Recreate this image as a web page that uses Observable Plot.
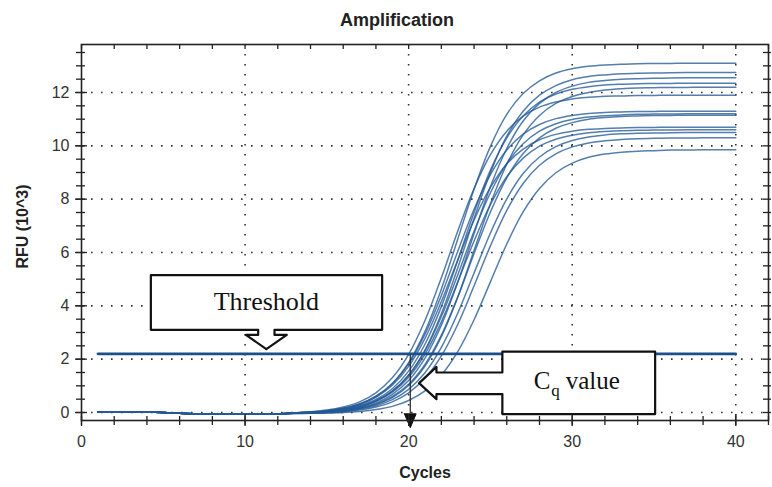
<!DOCTYPE html>
<html><head><meta charset="utf-8">
<script src="https://cdn.jsdelivr.net/npm/d3@7"></script>
<script src="https://cdn.jsdelivr.net/npm/@observablehq/plot@0.6"></script>
<style>body{margin:0;background:#fff}</style>
</head><body><div id="chart"></div>
<script>
// ---- data ----
const cycles = [1,2,3,4,5,6,7,8,9,10,11,12,13,14,15,16,17,18,19,20,21,22,23,24,25,26,27,28,29,30,31,32,33,34,35,36,37,38,39,40];
// shared baseline (cycles 1-12), RFU x1000
const baseline = [0.02,0.03,0.03,0.02,0.00,-0.03,-0.05,-0.05,-0.05,-0.05,-0.05,-0.05];
// per-well RFU (x1000), cycles 13-40
const well1  = [-0.01,0.02,0.07,0.16,0.32,0.61,1.09,1.87,3.04,4.63,6.50,8.37,9.98,11.18,11.96,12.44,12.73,12.89,12.98,13.03,13.06,13.08,13.09,13.09,13.10,13.10,13.10,13.10];
const well2  = [-0.02,0.00,0.04,0.10,0.22,0.43,0.80,1.40,2.34,3.70,5.42,7.28,9.00,10.36,11.30,11.90,12.26,12.48,12.60,12.66,12.70,12.72,12.73,12.74,12.75,12.75,12.75,12.75];
const well3  = [-0.03,-0.01,0.02,0.08,0.18,0.36,0.68,1.20,2.04,3.27,4.88,6.71,8.47,9.90,10.93,11.59,12.00,12.24,12.38,12.45,12.50,12.52,12.53,12.54,12.55,12.55,12.55,12.55];
const well4  = [-0.02,0.00,0.05,0.12,0.26,0.49,0.89,1.55,2.56,3.97,5.70,7.50,9.09,10.30,11.12,11.64,11.94,12.12,12.22,12.28,12.31,12.33,12.34,12.34,12.35,12.35,12.35,12.35];
const well5  = [-0.03,-0.02,0.01,0.06,0.15,0.30,0.56,1.01,1.74,2.84,4.32,6.08,7.83,9.31,10.41,11.14,11.59,11.85,12.00,12.09,12.14,12.17,12.18,12.19,12.19,12.20,12.20,12.20];
const well6  = [-0.01,0.03,0.09,0.21,0.40,0.74,1.30,2.18,3.45,5.05,6.80,8.40,9.67,10.55,11.11,11.45,11.64,11.76,11.82,11.86,11.87,11.89,11.89,11.90,11.90,11.90,11.90,11.90];
const well7  = [-0.01,0.02,0.07,0.16,0.32,0.60,1.08,1.83,2.94,4.39,6.04,7.62,8.92,9.84,10.44,10.80,11.02,11.14,11.21,11.25,11.27,11.29,11.29,11.30,11.30,11.30,11.30,11.30];
const well8  = [-0.02,0.00,0.04,0.11,0.23,0.44,0.80,1.40,2.31,3.60,5.16,6.80,8.24,9.34,10.08,10.55,10.83,10.99,11.08,11.13,11.16,11.18,11.19,11.19,11.20,11.20,11.20,11.20];
const well9  = [-0.03,-0.01,0.01,0.07,0.16,0.32,0.60,1.06,1.80,2.90,4.33,5.96,7.52,8.80,9.71,10.30,10.66,10.87,11.00,11.06,11.10,11.12,11.14,11.14,11.15,11.15,11.15,11.15];
const well10 = [-0.02,0.01,0.06,0.15,0.30,0.57,1.02,1.73,2.78,4.16,5.72,7.22,8.44,9.32,9.88,10.23,10.43,10.55,10.62,10.65,10.67,10.69,10.69,10.70,10.70,10.70,10.70,10.70];
const well11 = [-0.02,0.00,0.03,0.10,0.21,0.42,0.76,1.32,2.19,3.40,4.89,6.43,7.80,8.84,9.54,9.99,10.25,10.40,10.49,10.54,10.57,10.58,10.59,10.59,10.60,10.60,10.60,10.60];
const well12 = [-0.03,-0.02,0.00,0.04,0.12,0.25,0.48,0.87,1.49,2.44,3.72,5.23,6.73,8.01,8.96,9.58,9.97,10.20,10.33,10.41,10.45,10.47,10.48,10.49,10.50,10.50,10.50,10.50];
const well13 = [-0.04,-0.03,-0.01,0.03,0.09,0.21,0.40,0.74,1.28,2.12,3.30,4.75,6.25,7.58,8.59,9.27,9.70,9.96,10.11,10.19,10.24,10.27,10.28,10.29,10.29,10.30,10.30,10.30];
const well14 = [-0.04,-0.03,-0.02,0.00,0.04,0.11,0.23,0.45,0.81,1.40,2.28,3.48,4.90,6.32,7.52,8.40,8.99,9.35,9.57,9.69,9.76,9.80,9.82,9.84,9.84,9.85,9.85,9.85];
const wells = [well1,well2,well3,well4,well5,well6,well7,well8,well9,well10,well11,well12,well13,well14];

const threshold = 2.2;
const thresholdCycles = [1, 40];
const cqCycle = 20.1;

const xTickLabels = [0, 10, 20, 30, 40];
const yTickLabels = [0, 2, 4, 6, 8, 10, 12];
const xMinorTicks = [0,2,4,6,8,10,12,14,16,18,20,22,24,26,28,30,32,34,36,38,40,42];
const yMinorTicks = [0,0.5,1,1.5,2,2.5,3,3.5,4,4.5,5,5.5,6,6.5,7,7.5,8,8.5,9,9.5,10,10.5,11,11.5,12,12.5,13,13.5];

const titleText = "Amplification";
const xLabel = "Cycles";
const yLabel = "RFU (10^3)";

// annotation shapes, in data units (cycles, RFU x1000)
const thrCalloutX = [4.24,18.38,18.38,11.8,11.8,12.55,11.3,10.05,10.8,10.8,4.24,4.24];
const thrCalloutY = [5.15,5.15,3.10,3.10,2.91,2.91,2.38,2.91,2.91,3.10,3.10,5.15];
const cqCalloutX = [25.73,35.07,35.07,25.73,25.73,21.70,21.70,20.64,21.70,21.70,25.73,25.73];
const cqCalloutY = [2.28,2.28,-0.06,-0.06,0.69,0.69,0.50,1.10,1.71,1.50,1.50,2.28];
const cqArrowHeadX = [19.74,20.46,20.1,19.74];
const cqArrowHeadY = [-0.05,-0.05,-0.57,-0.05];

// ---- build tables ----
const table = [];
wells.forEach((w, i) => {
  const vals = baseline.concat(w);
  cycles.forEach((c, j) => table.push({well: i + 1, cycle: c, rfu: vals[j]}));
});
const pts = (xs, ys) => xs.map((x, i) => ({x, y: ys[i]}));
const thrCallout = pts(thrCalloutX, thrCalloutY);
const cqCallout = pts(cqCalloutX, cqCalloutY);
const cqHead = pts(cqArrowHeadX, cqArrowHeadY);
const thrLine = thresholdCycles.map(c => ({x: c, y: threshold}));

const H = 376, W = 687;
const dots = {stroke: "#333", strokeOpacity: 1, strokeWidth: 1.6, strokeDasharray: "1.6,8.4"};
const serif = "'Liberation Serif', 'Times New Roman', serif";

const chart = Plot.plot({
  width: 772, height: 487,
  marginLeft: 81, marginRight: 4, marginTop: 44, marginBottom: 67,
  style: {fontFamily: "'Liberation Sans', Arial, sans-serif", fontSize: "16px", background: "white", color: "#333", overflow: "visible"},
  x: {domain: [0, 42], axis: null},
  y: {domain: [-0.3, 13.8], axis: null},
  marks: [
    Plot.ruleX(xTickLabels.slice(1), dots),
    Plot.ruleY(yTickLabels, dots),
    Plot.line(table, {x: "cycle", y: "rfu", z: "well", stroke: "#245a96", strokeOpacity: 0.78, strokeWidth: 1.5, curve: "catmull-rom"}),
    Plot.line(thrLine, {x: "x", y: "y", stroke: "#1c4f8a", strokeWidth: 2.6}),
    Plot.line(thrCallout, {x: "x", y: "y", fill: "white", stroke: "#111", strokeWidth: 2.2}),
    Plot.line(cqCallout, {x: "x", y: "y", fill: "white", stroke: "#111", strokeWidth: 2.2}),
    Plot.ruleX([cqCycle], {y1: threshold - 0.05, y2: -0.05, stroke: "#222", strokeWidth: 1.2}),
    Plot.line(cqHead, {x: "x", y: "y", fill: "#111", stroke: "#111", strokeWidth: 1}),
    Plot.frame({stroke: "#222", strokeWidth: 1.6}),
    // bottom ticks (crossing the axis)
    Plot.tickX(xMinorTicks, {x: d => d, insetTop: H - 4, insetBottom: -5, stroke: "#222", strokeWidth: 1.3}),
    Plot.tickX(xTickLabels, {x: d => d, insetTop: H - 6, insetBottom: -6, stroke: "#222", strokeWidth: 1.3}),
    // top ticks (inward)
    Plot.tickX(xMinorTicks, {x: d => d, insetBottom: H - 5, stroke: "#222", strokeWidth: 1.3}),
    // left ticks (crossing)
    Plot.tickY(yMinorTicks, {y: d => d, insetRight: W - 4, insetLeft: -5, stroke: "#222", strokeWidth: 1.3}),
    Plot.tickY(yTickLabels, {y: d => d, insetRight: W - 6, insetLeft: -6, stroke: "#222", strokeWidth: 1.3}),
    // right ticks
    Plot.tickY(yMinorTicks, {y: d => d, insetLeft: W - 5, insetRight: -3, stroke: "#222", strokeWidth: 1.3}),
    // tick labels
    Plot.text(xTickLabels, {x: d => d, text: d => String(d), frameAnchor: "bottom", lineAnchor: "middle", dy: 21, fill: "#333", fontSize: 16}),
    Plot.text(yTickLabels, {y: d => d, text: d => String(d), frameAnchor: "left", lineAnchor: "middle", dx: -12, textAnchor: "end", fill: "#333", fontSize: 16}),
    // titles
    Plot.text([titleText], {text: d => d, frameAnchor: "top", lineAnchor: "middle", textAnchor: "middle", dx: -28, dy: -24, fontWeight: "bold", fontSize: 18, fill: "#222"}),
    Plot.text([xLabel], {text: d => d, frameAnchor: "bottom", lineAnchor: "middle", textAnchor: "middle", dy: 52, fontWeight: "bold", fontSize: 16, fill: "#222"}),
    Plot.text([yLabel], {text: d => d, frameAnchor: "left", lineAnchor: "middle", textAnchor: "middle", dx: -59, dy: -6, rotate: -90, fontWeight: "bold", fontSize: 16, fill: "#222"}),
    // callout texts
    Plot.text(["Threshold"], {x: [11.3], y: [4.15], text: d => d, fontFamily: serif, fontSize: 26, fill: "#111"}),
    Plot.text(["C"], {x: [27.65], y: [0.87], text: d => d, textAnchor: "start", lineAnchor: "bottom", fontFamily: serif, fontSize: 25, fill: "#111"}),
    Plot.text(["q"], {x: [28.72], y: [0.62], text: d => d, textAnchor: "start", lineAnchor: "bottom", fontFamily: serif, fontSize: 17, fill: "#111"}),
    Plot.text(["value"], {x: [29.6], y: [0.87], text: d => d, textAnchor: "start", lineAnchor: "bottom", fontFamily: serif, fontSize: 25, fill: "#111"})
  ]
});
document.getElementById("chart").appendChild(chart);
</script>
</body></html>
